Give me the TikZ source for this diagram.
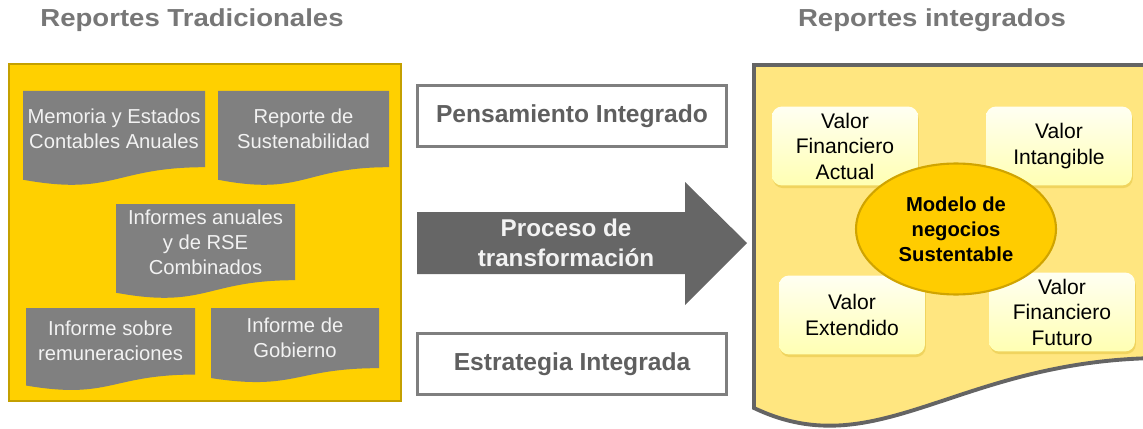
\documentclass[tikz,border=0pt]{standalone}
\usepackage{fontspec}
\setmainfont{Liberation Sans}
\newfontfamily\anchofont[FakeStretch=1.12]{Liberation Sans}
\usepackage{xcolor}
\usetikzlibrary{shapes,arrows,positioning,shadows,calc}

\definecolor{oro}{HTML}{FFD000}
\definecolor{orobordo}{HTML}{C4A000}
\definecolor{crema}{HTML}{FFE680}
\definecolor{grisdoc}{HTML}{808080}
\definecolor{grisflecha}{HTML}{666666}
\definecolor{grisborde}{HTML}{7F7F7F}
\definecolor{gristexto}{HTML}{5F5F5F}
\definecolor{gristitulo}{HTML}{777777}
\definecolor{grismarco}{HTML}{646464}
\definecolor{elipse}{HTML}{FFCC00}
\definecolor{elipsebordo}{HTML}{D0A400}

\tikzset{
  titulo/.style={text=gristitulo, font=\anchofont\fontsize{14}{16}\selectfont\bfseries},
  doctext/.style={text=white!95!black, align=center, font=\fontsize{11.5}{14.2}\selectfont},
  banda/.style={rectangle, draw=grisborde, line width=1.7pt, fill=white, minimum width=6.2cm, minimum height=1.22cm, text=gristexto, font=\fontsize{14}{16}\selectfont\bfseries},
  valor/.style={rectangle, rounded corners=0.2cm, minimum width=2.92cm, minimum height=1.58cm, top color=yellow!5, bottom color=yellow!30, drop shadow={shadow xshift=0.5pt, shadow yshift=-1.5pt, opacity=0.25, fill=orobordo}, align=center, font=\fontsize{12}{14.5}\selectfont}
}

% documento con borde ondulado: nombre, x, y, ancho, alto, texto
\newcommand{\reporte}[6]{%
  \fill[grisdoc] (#2,#3) -- ({#2+#4},#3) -- ({#2+#4},{#3+0.802*#5})
    .. controls ({#2+0.5*#4},{#3+0.802*#5}) and ({#2+0.5*#4},{#3+1.1075*#5}) .. (#2,{#3+0.934*#5}) -- cycle;
  \node[doctext] (#1) at ({#2+0.5*#4},{#3+0.4*#5}) {#6};
}

\begin{document}
\begin{tikzpicture}[x=0.02cm, y=-0.02cm]
\useasboundingbox (0,0) rectangle (1143,429);

% titulos
\node[titulo] (tradicionales) at (192,20) {Reportes Tradicionales};
\node[titulo] (integrados) at (932,20) {Reportes integrados};

% reportes tradicionales
\filldraw[fill=oro, draw=orobordo, line width=1.7pt] (9,64) rectangle (401,401);
\reporte{memoria}{23}{91}{182}{95}{Memoria y Estados\\Contables Anuales}
\reporte{sustenabilidad}{218}{91}{171}{95}{Reporte de\\Sustenabilidad}
\reporte{rse}{116}{204}{179}{95}{Informes anuales\\y de RSE\\Combinados}
\reporte{remuneraciones}{26}{308}{169}{83}{Informe sobre\\remuneraciones}
\reporte{gobierno}{211}{308}{168}{75}{Informe de\\Gobierno}

% proceso
\node[banda] (pensamiento) at (572,116) {Pensamiento Integrado};
\node[banda] (estrategia) at (572,364) {Estrategia Integrada};
\fill[grisflecha] (417,212) -- (685,212) -- (685,182) -- (747,243) -- (685,305) -- (685,274) -- (417,274) -- cycle;
\node[text=white!95!black, align=center, font=\fontsize{13.8}{17}\selectfont\bfseries] (proceso) at (566,243) {Proceso de\\transformación};

% reportes integrados
\begin{scope}
\clip (0,0) rectangle (1143,429);
\filldraw[fill=crema, draw=grismarco, line width=2.2pt] (1170,65) -- (754,65) -- (754,408)
  .. controls (880,468) and (960,356) .. (1170,358) -- cycle;
\end{scope}

\node[valor] (actual) at (845,146) {Valor\\Financiero\\Actual};
\node[valor] (intangible) at (1059,146) {Valor\\Intangible};
\node[valor] (extendido) at (852,315) {Valor\\Extendido};
\node[valor] (futuro) at (1062,312) {Valor\\Financiero\\Futuro};
\node[ellipse, draw=elipsebordo, line width=1.2pt, fill=elipse, minimum width=4.0cm, minimum height=2.62cm, align=center, font=\fontsize{11.5}{14.2}\selectfont\bfseries] (modelo) at (956,229) {Modelo de\\negocios\\Sustentable};
\end{tikzpicture}
\end{document}
